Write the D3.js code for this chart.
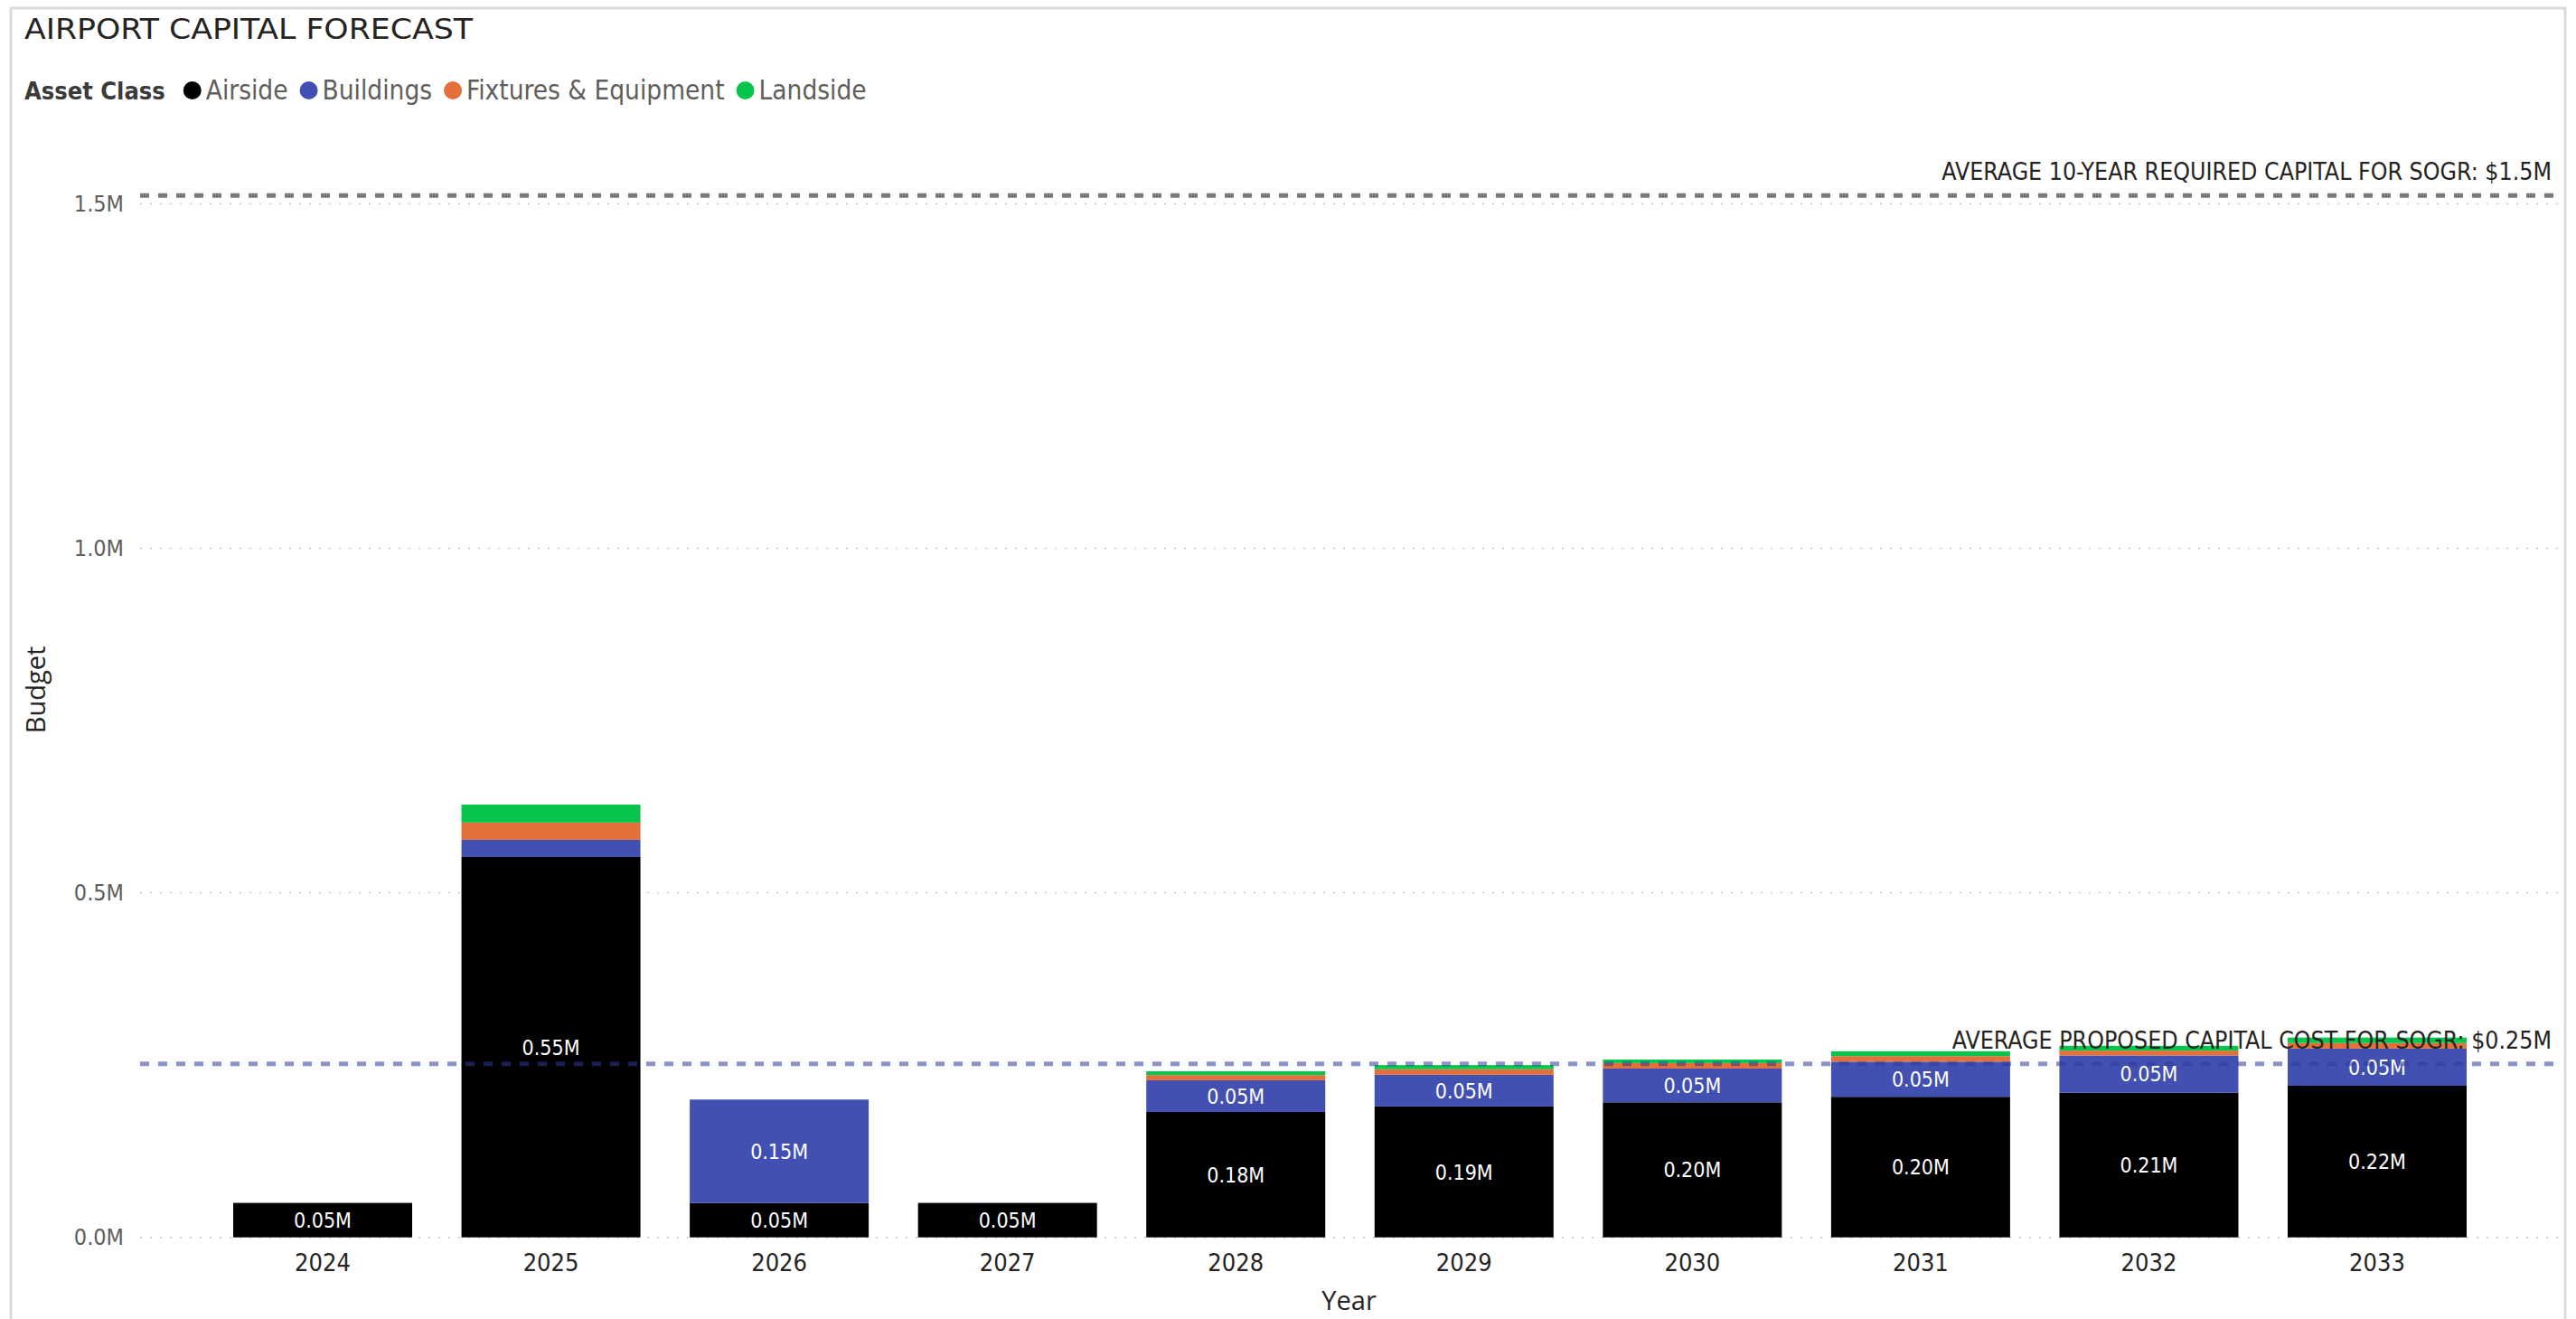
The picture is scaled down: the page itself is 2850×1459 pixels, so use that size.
<!DOCTYPE html>
<html>
<head>
<meta charset="utf-8">
<script src="https://cdn.jsdelivr.net/npm/d3@7"></script>
<style>
  html, body { margin: 0; padding: 0; background: #ffffff; }
  svg { display: block; }
</style>
</head>
<body>
<svg id="chart" width="2850" height="1459"></svg>
<script>
// Capital forecast per year, in millions, split by asset class
const years = ["2024", "2025", "2026", "2027", "2028", "2029", "2030", "2031", "2032", "2033"];
const airside   = [0.05, 0.552, 0.05, 0.05, 0.182, 0.19, 0.196, 0.204, 0.21, 0.22];
const buildings = [0, 0.025, 0.15, 0, 0.046, 0.046, 0.049, 0.051, 0.054, 0.054];
const fixtures  = [0, 0.025, 0, 0, 0.0075, 0.008, 0.008, 0.008, 0.007, 0.008];
const landside  = [0, 0.026, 0, 0, 0.0055, 0.006, 0.005, 0.007, 0.007, 0.008];

const seriesNames = ["Airside", "Buildings", "Fixtures & Equipment", "Landside"];
const seriesColors = ["#000000", "#4250B2", "#E3703A", "#06C44C"];
const yTicks = [0, 0.5, 1.0, 1.5];

// Reference lines (millions)
const avgRequired = 1.512;
const avgProposed = 0.252;

const condensed = "'Liberation Sans Narrow','DejaVu Sans Condensed','Roboto Condensed','Liberation Sans',sans-serif";
const regular = "'Open Sans','Noto Sans','Segoe UI',sans-serif";

const svg = d3.select("#chart");

// Visual frame
svg.append("rect")
  .attr("x", 12).attr("y", 9)
  .attr("width", 2826).attr("height", 1470)
  .attr("fill", "none")
  .attr("stroke", "#dadada")
  .attr("stroke-width", 3);

// Title
svg.append("text")
  .attr("x", 27).attr("y", 43)
  .attr("font-family", condensed)
  .attr("font-size", 32)
  .attr("fill", "#252423")
  .attr("textLength", 496)
  .attr("lengthAdjust", "spacingAndGlyphs")
  .text("AIRPORT CAPITAL FORECAST");

// Legend
const legend = svg.append("g").attr("transform", "translate(27,100)");
const legTitle = legend.append("text")
  .attr("x", 0).attr("y", 10)
  .attr("font-family", condensed)
  .attr("font-weight", "bold")
  .attr("font-size", 27)
  .attr("fill", "#3b3a39")
  .text("Asset Class");
let lx = legTitle.node().getComputedTextLength() + 20;
seriesNames.forEach((name, i) => {
  legend.append("circle")
    .attr("cx", lx + 10).attr("cy", 0).attr("r", 10)
    .attr("fill", seriesColors[i]);
  const t = legend.append("text")
    .attr("x", lx + 25).attr("y", 10)
    .attr("font-family", condensed)
    .attr("font-size", 29.5)
    .attr("fill", "#605E5C")
    .text(name);
  lx += 25 + t.node().getComputedTextLength() + 13;
});

// Scales
const x = d3.scaleBand()
  .domain(years)
  .range([230.7, 2756.3])
  .paddingInner(0.216)
  .paddingOuter(0.108);

const y = d3.scaleLinear()
  .domain([0, 1.5])
  .range([1368.7, 225.4]);

const plotLeft = 155, plotRight = 2830;

// Gridlines
svg.append("g")
  .selectAll("line")
  .data(yTicks)
  .join("line")
  .attr("x1", plotLeft).attr("x2", plotRight)
  .attr("y1", d => y(d)).attr("y2", d => y(d))
  .attr("stroke", "#c8c6c4")
  .attr("stroke-width", 1.5)
  .attr("stroke-dasharray", "2,9");

// Y axis
const yAxis = svg.append("g")
  .attr("transform", "translate(137,0)")
  .call(d3.axisLeft(y).tickValues(yTicks).tickSize(0).tickPadding(0)
    .tickFormat(d => d3.format(".1f")(d) + "M"));
yAxis.select(".domain").remove();
yAxis.selectAll("text")
  .attr("font-family", condensed)
  .attr("font-size", 25)
  .attr("fill", "#605E5C");

// Y title
svg.append("text")
  .attr("transform", "translate(50,763) rotate(-90)")
  .attr("text-anchor", "middle")
  .attr("font-family", regular)
  .attr("font-size", 29)
  .attr("fill", "#252423")
  .text("Budget");

// Stacked bars
const rows = years.map((yr, i) => ({
  year: yr,
  "Airside": airside[i],
  "Buildings": buildings[i],
  "Fixtures & Equipment": fixtures[i],
  "Landside": landside[i]
}));
const stack = d3.stack().keys(seriesNames)(rows);

const layers = svg.append("g")
  .selectAll("g")
  .data(stack)
  .join("g")
  .attr("fill", (d, i) => seriesColors[i]);

layers.selectAll("rect")
  .data(d => d.filter(s => s[1] - s[0] > 0))
  .join("rect")
  .attr("x", d => x(d.data.year))
  .attr("width", x.bandwidth())
  .attr("y", d => y(d[1]))
  .attr("height", d => y(d[0]) - y(d[1]));

// Segment value labels where the segment is tall enough
const labelG = svg.append("g");
stack.forEach(layer => {
  layer.forEach(s => {
    const h = y(s[0]) - y(s[1]);
    if (h < 30) return;
    labelG.append("text")
      .attr("x", x(s.data.year) + x.bandwidth() / 2)
      .attr("y", (y(s[0]) + y(s[1])) / 2)
      .attr("dy", "0.36em")
      .attr("text-anchor", "middle")
      .attr("font-family", condensed)
      .attr("font-size", 23)
      .attr("fill", "#ffffff")
      .text(d3.format(".2f")(s[1] - s[0]) + "M");
  });
});

// X axis
const xAxis = svg.append("g")
  .attr("transform", "translate(0,1368.7)")
  .call(d3.axisBottom(x).tickSize(0).tickPadding(0));
xAxis.select(".domain").remove();
xAxis.selectAll("text")
  .attr("y", 37)
  .attr("dy", 0)
  .attr("font-family", condensed)
  .attr("font-size", 27)
  .attr("fill", "#252423");

svg.append("text")
  .attr("x", (plotLeft + plotRight) / 2).attr("y", 1449)
  .attr("text-anchor", "middle")
  .attr("font-family", regular)
  .attr("font-size", 29)
  .attr("fill", "#252423")
  .text("Year");

// Reference lines
const refs = [
  { value: avgRequired, color: "#7a7a7a", opacity: 1,
    label: "AVERAGE 10-YEAR REQUIRED CAPITAL FOR SOGR: $" + d3.format(".1f")(avgRequired) + "M" },
  { value: avgProposed, color: "#2F3A99", opacity: 0.55,
    label: "AVERAGE PROPOSED CAPITAL COST FOR SOGR: $" + d3.format(".2f")(avgProposed) + "M" }
];
const refG = svg.append("g");
refG.selectAll("line")
  .data(refs)
  .join("line")
  .attr("x1", plotLeft).attr("x2", plotRight)
  .attr("y1", d => y(d.value)).attr("y2", d => y(d.value))
  .attr("stroke", d => d.color)
  .attr("stroke-opacity", d => d.opacity)
  .attr("stroke-width", 5)
  .attr("stroke-dasharray", "10,10");
refG.selectAll("text")
  .data(refs)
  .join("text")
  .attr("x", 2823)
  .attr("y", d => y(d.value) - 17)
  .attr("text-anchor", "end")
  .attr("font-family", condensed)
  .attr("font-size", 26.5)
  .attr("fill", "#252423")
  .text(d => d.label);
</script>
</body>
</html>
